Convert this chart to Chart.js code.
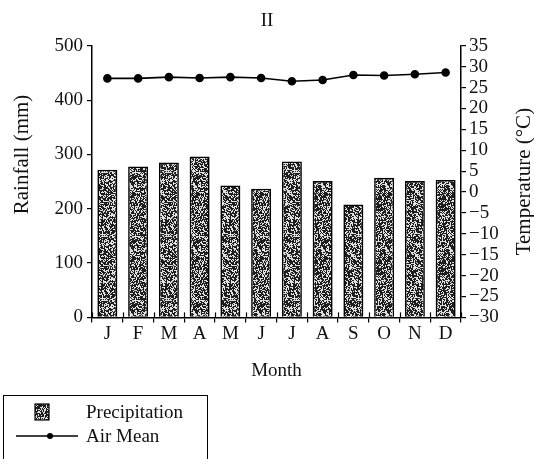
<!DOCTYPE html>
<html>
<head>
<meta charset="utf-8">
<script src="https://cdn.jsdelivr.net/npm/chart.js@4/dist/chart.umd.min.js"></script>
<style>
    html, body { margin: 0; padding: 0; background: #fff; }
    #wrap { position: relative; width: 534px; height: 459px; overflow: hidden; }
    #legendBox {
        position: absolute; left: 3px; top: 395px; width: 205px; height: 80px;
        border: 1.5px solid #000; box-sizing: border-box;
        font-family: 'Liberation Serif', serif; font-size: 19px; color: #111;
    }
    .legend-row { position: absolute; left: 0; height: 24px; line-height: 24px; }
    .legend-row span { position: absolute; left: 82px; white-space: nowrap; }
    .legend-row canvas { position: absolute; }
</style>
</head>
<body>
<div id="wrap">
    <canvas id="climateChart" width="534" height="459"></canvas>
    <div id="legendBox">
        <div class="legend-row" style="top:4px"><canvas id="iconRain" width="16" height="18" style="left:30px;top:3px"></canvas><span>Precipitation</span></div>
        <div class="legend-row" style="top:28px"><canvas id="iconTemp" width="62" height="12" style="left:12px;top:6px"></canvas><span>Air Mean</span></div>
    </div>
</div>
<script>
        const months = ['J', 'F', 'M', 'A', 'M', 'J', 'J', 'A', 'S', 'O', 'N', 'D'];
        const rainfall = [272, 278, 285, 296, 243, 237, 287, 251, 208, 257, 251, 253];
        const airMean = [27.2, 27.2, 27.5, 27.3, 27.5, 27.3, 26.5, 26.8, 28.0, 27.9, 28.2, 28.6];
        const rainAxis = { min: 0, max: 500, step: 100 };
        const tempAxis = { min: -30, max: 35, step: 5 };

        const serif = "'Liberation Serif', 'Times New Roman', serif";

        // stippled grey fill like the printed bars
        function makeStipple(size) {
            const c = document.createElement('canvas');
            c.width = size;
            c.height = size;
            const g = c.getContext('2d');
            const img = g.createImageData(size, size);
            for (let y = 0; y < size; y++) {
                for (let x = 0; x < size; x++) {
                    let h = Math.imul(x + 17, 374761393) ^ Math.imul(y + 31, 668265263);
                    h = Math.imul(h ^ (h >>> 13), 1274126177);
                    h = (h ^ (h >>> 16)) >>> 0;
                    const v = (h % 100) < 62 ? 30 : 225;
                    const i = (y * size + x) * 4;
                    img.data[i] = v;
                    img.data[i + 1] = v;
                    img.data[i + 2] = v;
                    img.data[i + 3] = 255;
                }
            }
            g.putImageData(img, 0, 0);
            return c;
        }

        const stippleCanvas = makeStipple(64);

        const crossTicks = {
            id: 'crossTicks',
            afterDraw(chart) {
                const x = chart.scales.x;
                const ctx = chart.ctx;
                const bottom = chart.chartArea.bottom;
                ctx.save();
                ctx.strokeStyle = '#000';
                ctx.lineWidth = 1.2;
                for (let i = 0; i <= months.length; i++) {
                    const px = Math.round(x.getPixelForValue(i - 0.5)) + 0.5;
                    ctx.beginPath();
                    ctx.moveTo(px, bottom - 5);
                    ctx.lineTo(px, bottom);
                    ctx.stroke();
                }
                ctx.restore();
            }
        };

        // both axis titles read bottom-to-top in the original
        function sideTitle(ctx, text, x, y) {
            ctx.save();
            ctx.translate(x, y);
            ctx.rotate(-Math.PI / 2);
            ctx.font = '21px ' + serif;
            ctx.fillStyle = '#111';
            ctx.textAlign = 'center';
            ctx.textBaseline = 'middle';
            ctx.fillText(text, 0, 0);
            ctx.restore();
        }

        const axisTitles = {
            id: 'axisTitles',
            afterDraw(chart) {
                const left = chart.scales.y;
                const right = chart.scales.y1;
                sideTitle(chart.ctx, 'Rainfall (mm)', left.left + 22, left.getPixelForValue(300));
                sideTitle(chart.ctx, 'Temperature (°C)', right.right - 10, right.getPixelForValue(2.5));
            }
        };

        function initChart() {
            const ctx = document.getElementById('climateChart').getContext('2d');
            const stipple = ctx.createPattern(stippleCanvas, 'repeat');
            new Chart(ctx, {
                type: 'bar',
                data: {
                    labels: months,
                    datasets: [{
                        type: 'line',
                        label: 'Air Mean',
                        data: airMean,
                        yAxisID: 'y1',
                        borderColor: '#000',
                        backgroundColor: '#000',
                        borderWidth: 1.6,
                        pointRadius: 3.5,
                        tension: 0,
                        order: 0
                    }, {
                        label: 'Precipitation',
                        data: rainfall,
                        yAxisID: 'y',
                        backgroundColor: stipple,
                        borderColor: '#000',
                        borderWidth: 1.6,
                        barPercentage: 0.65,
                        categoryPercentage: 1,
                        order: 1
                    }]
                },
                options: {
                    responsive: false,
                    animation: false,
                    devicePixelRatio: 1,
                    layout: { padding: { top: 0, right: 0, bottom: 77, left: 0 } },
                    plugins: {
                        legend: { display: false },
                        tooltip: { enabled: false },
                        title: {
                            display: true,
                            text: 'II',
                            color: '#111',
                            font: { family: serif, size: 19, weight: 'normal' },
                            padding: { top: 10, bottom: 13 }
                        }
                    },
                    scales: {
                        x: {
                            grid: { drawOnChartArea: false, offset: true, tickLength: 5, color: '#000', lineWidth: 1.2 },
                            border: { color: '#000', width: 1.5 },
                            ticks: { color: '#111', font: { family: serif, size: 19 }, padding: 0, maxRotation: 0 },
                            title: {
                                display: true,
                                text: 'Month',
                                color: '#111',
                                font: { family: serif, size: 19 },
                                padding: { top: 14, bottom: 0 }
                            }
                        },
                        y: {
                            position: 'left',
                            min: rainAxis.min,
                            max: rainAxis.max,
                            afterFit: (scale) => { scale.width = 92; },
                            grid: { drawOnChartArea: false, tickLength: 5, color: '#000', lineWidth: 1.2 },
                            border: { color: '#000', width: 1.5 },
                            ticks: { stepSize: rainAxis.step, color: '#111', font: { family: serif, size: 19 }, padding: 4 }
                        },
                        y1: {
                            position: 'right',
                            min: tempAxis.min,
                            max: tempAxis.max,
                            afterFit: (scale) => { scale.width = 73; },
                            grid: { drawOnChartArea: false, tickLength: 5, color: '#000', lineWidth: 1.2 },
                            border: { color: '#000', width: 1.5 },
                            ticks: {
                                stepSize: tempAxis.step,
                                autoSkip: false,
                                color: '#111',
                                font: { family: serif, size: 19, lineHeight: 1 },
                                padding: 3,
                                callback: (v) => String(v).replace('-', '\u2212')
                            }
                        }
                    }
                },
                plugins: [crossTicks, axisTitles]
            });
        }

        function drawLegendIcons() {
            const r = document.getElementById('iconRain').getContext('2d');
            r.fillStyle = r.createPattern(stippleCanvas, 'repeat');
            r.fillRect(1, 1, 14, 16);
            r.strokeStyle = '#000';
            r.lineWidth = 1.2;
            r.strokeRect(1, 1, 14, 16);

            const t = document.getElementById('iconTemp').getContext('2d');
            t.strokeStyle = '#000';
            t.lineWidth = 1.6;
            t.beginPath();
            t.moveTo(0, 6);
            t.lineTo(62, 6);
            t.stroke();
            t.fillStyle = '#000';
            t.beginPath();
            t.arc(34, 6, 3, 0, Math.PI * 2);
            t.fill();
        }

        initChart();
        drawLegendIcons();
</script>
</body>
</html>
